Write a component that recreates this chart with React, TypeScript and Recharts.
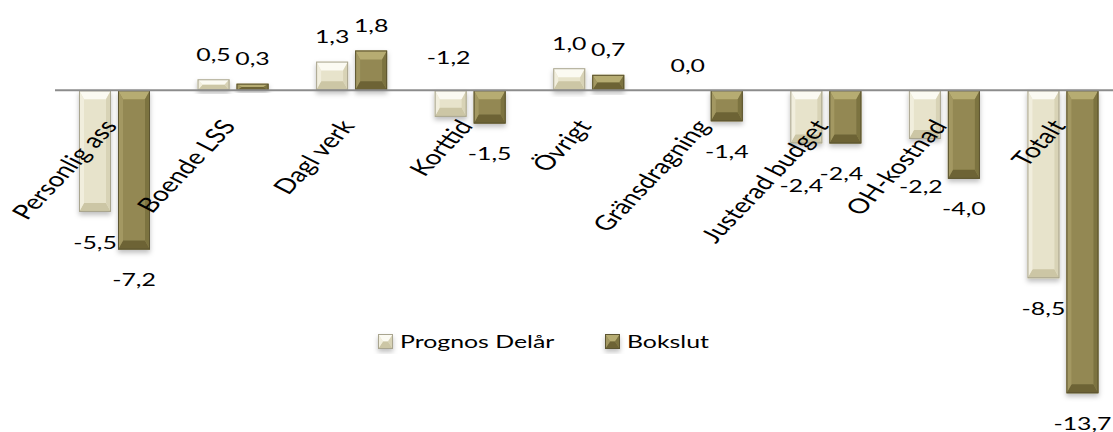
import { BarChart, Bar, XAxis, YAxis, ReferenceLine, LabelList, Legend } from 'recharts'

const categories = ['Personlig ass', 'Boende LSS', 'Dagl verk', 'Korttid', 'Övrigt', 'Gränsdragning', 'Justerad budget', 'OH-kostnad', 'Totalt']
const prognosDelar = [-5.5, 0.5, 1.3, -1.2, 1.0, 0.0, -2.4, -2.2, -8.5]
const bokslut = [-7.2, 0.3, 1.8, -1.5, 0.7, -1.4, -2.4, -4.0, -13.7]
const seriesNames = ['Prognos Delår', 'Bokslut']

const data = categories.map((name, i) => ({ name, prognos: prognosDelar[i], bokslut: bokslut[i] }))

// layout
const W = 1130
const H = 432
const X_AXIS_H = 10
const MARGIN = { top: 24, right: 8, left: 55, bottom: 0 }
const Y_MIN = -15
const Y_MAX = 3
const PLOT_H = H - MARGIN.top - MARGIN.bottom - X_AXIS_H
const ZERO_Y = MARGIN.top + (PLOT_H * Y_MAX) / (Y_MAX - Y_MIN)
const FONT = 'Lato, "Open Sans", sans-serif'
const FS = 18
const SX = 1.38 // the source picture is stretched sideways

const PALETTE: Record<string, any> = {
  prognos: { face: '#E7E3CB', top: '#FBFAF2', bottom: '#CCC6A5', left: '#F1EEDD', right: '#D8D3B6', stroke: '#A9A58F' },
  bokslut: { face: '#938852', top: '#B6AC72', bottom: '#6D6436', left: '#A39862', right: '#7C7341', stroke: '#5C5430' },
}

// manual label moves as in the original sheet
const LABEL_NUDGE: Record<string, { dx: number; dy: number }> = {
  'prognos:Korttid': { dx: -2, dy: -90 },
  'prognos:Justerad budget': { dx: -5, dy: 12 },
  'prognos:OH-kostnad': { dx: -4, dy: 17 },
  'bokslut:Justerad budget': { dx: -4, dy: 0 },
}

const fmt = (v: number) => v.toFixed(1).replace('.', ',')

function BevelBar(props: any) {
  const { x, y, width, height, dataKey } = props
  const c = PALETTE[dataKey]
  const t = Math.min(y, y + height)
  const h = Math.abs(height)
  const w = width
  if (!c || !h || h < 0.5) return null
  const b = t + h
  const bs = Math.min(5, w / 2)
  const bt = Math.min(9, h / 2)
  const pts = (a: number[][]) => a.map((p) => p.join(',')).join(' ')
  return (
    <g filter="url(#barShadow)">
      <rect x={x} y={t} width={w} height={h} fill={c.face} />
      <polygon points={pts([[x, t], [x + w, t], [x + w - bs, t + bt], [x + bs, t + bt]])} fill={c.top} />
      <polygon points={pts([[x, b], [x + w, b], [x + w - bs, b - bt], [x + bs, b - bt]])} fill={c.bottom} />
      <polygon points={pts([[x, t], [x + bs, t + bt], [x + bs, b - bt], [x, b]])} fill={c.left} />
      <polygon points={pts([[x + w, t], [x + w - bs, t + bt], [x + w - bs, b - bt], [x + w, b]])} fill={c.right} />
      <rect x={x + 0.5} y={t + 0.5} width={w - 1} height={Math.max(h - 1, 0)} fill="none" stroke={c.stroke} strokeWidth={1} />
    </g>
  )
}

const makeValueLabel = (key: string) => (props: any) => {
  const x = Number(props.x)
  const y = Number(props.y)
  const width = Number(props.width)
  const height = Number(props.height) || 0
  const v = Number(props.value)
  const top = Math.min(y, y + height)
  const bottom = Math.max(y, y + height)
  const n = LABEL_NUDGE[`${key}:${categories[props.index]}`] || { dx: 0, dy: 0 }
  const cx = x + width / 2 + n.dx
  const cy = (v >= 0 ? top - 25 : bottom + 30) + n.dy
  return (
    <text transform={`translate(${cx},${cy}) scale(${SX},1)`} textAnchor="middle" dominantBaseline="central" fontFamily={FONT} fontSize={FS} fill="#000">
      {fmt(v)}
    </text>
  )
}

function CategoryTick(props: any) {
  const { x, payload } = props
  return (
    <text transform={`translate(${x + 4},${ZERO_Y + 36}) scale(${SX},1) rotate(-55)`} textAnchor="end" fontFamily={FONT} fontSize={20.5} fill="#000">
      {payload.value}
    </text>
  )
}

const LEGEND_X = [8, 235]

function LegendContent(props: any) {
  const items = [...(props.payload || [])].sort(
    (a: any, b: any) => seriesNames.indexOf(a.value) - seriesNames.indexOf(b.value)
  )
  return (
    <svg width={420} height={26} style={{ position: 'absolute', left: 370, top: 328, overflow: 'visible' }}>
      {items.map((it: any, i: number) => {
        const key = it.dataKey as string
        const ox = LEGEND_X[i]
        return (
          <g key={key}>
            <BevelBar x={ox} y={6} width={15} height={15} dataKey={key} />
            <text transform={`translate(${ox + 22},${13.5}) scale(${SX},1)`} dominantBaseline="central" fontFamily={FONT} fontSize={FS} fill="#000">
              {it.value}
            </text>
          </g>
        )
      })}
    </svg>
  )
}

export default function App() {
  return (
    <div style={{ position: 'absolute', left: 0, top: 0, width: 1113, height: 432, overflow: 'hidden', background: '#fff' }}>
      <BarChart width={W} height={H} data={data} margin={MARGIN} barSize={32} barGap={7}>
        <defs>
          <filter id="barShadow" x="-30%" y="-30%" width="160%" height="160%">
            <feDropShadow dx="0" dy="3" stdDeviation="2.5" floodColor="#000" floodOpacity="0.25" />
          </filter>
        </defs>
        <XAxis dataKey="name" axisLine={false} tickLine={false} height={X_AXIS_H} interval={0} tick={<CategoryTick />} />
        <YAxis hide type="number" domain={[Y_MIN, Y_MAX]} allowDataOverflow />
        <ReferenceLine y={0} stroke="#8C8C8C" strokeWidth={2} />
        <Bar dataKey="prognos" name={seriesNames[0]} fill={PALETTE.prognos.face} shape={<BevelBar />} isAnimationActive={false}>
          <LabelList dataKey="prognos" content={makeValueLabel('prognos')} />
        </Bar>
        <Bar dataKey="bokslut" name={seriesNames[1]} fill={PALETTE.bokslut.face} shape={<BevelBar />} isAnimationActive={false}>
          <LabelList dataKey="bokslut" content={makeValueLabel('bokslut')} />
        </Bar>
        <Legend content={<LegendContent />} wrapperStyle={{ position: 'absolute', left: 0, top: 0, width: 0, height: 0 }} />
      </BarChart>
    </div>
  )
}
